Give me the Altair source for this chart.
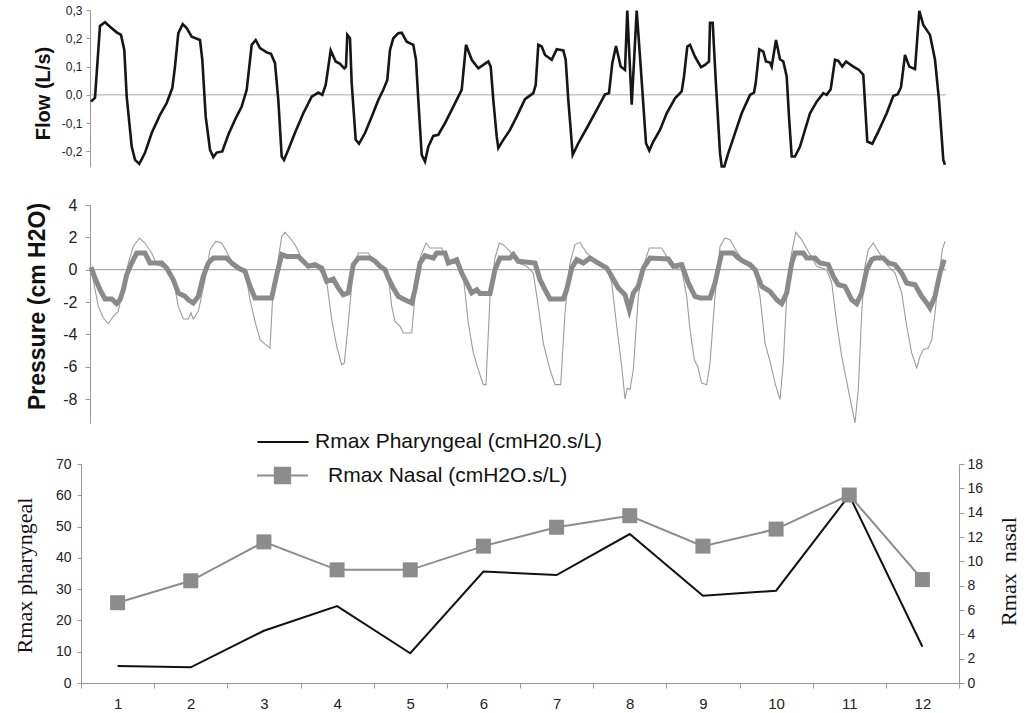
import altair as alt
import pandas as pd

# ---------------- data ----------------
# Flow trace: (time sample, flow L/s)
flow_trace = [
    (91, -0.024), (95, -0.01), (100, 0.244), (105, 0.257), (110, 0.241), (116.7, 0.221), (121, 0.212),
    (124.3, 0.159), (126.7, -0.006), (131.7, -0.183), (135, -0.23), (139.3, -0.244), (145, -0.205),
    (151.7, -0.135), (160, -0.071), (166.7, -0.029), (172.3, 0.024), (175, 0.1), (178.3, 0.218),
    (182.7, 0.25), (186.7, 0.236), (191.7, 0.206), (200, 0.194), (202.3, 0.124), (205.7, -0.077),
    (210, -0.194), (213.3, -0.22), (216.7, -0.204), (222.3, -0.2), (228.3, -0.141), (235, -0.088),
    (241.7, -0.041), (246.7, 0.018), (251.7, 0.177), (255.7, 0.194), (260, 0.165), (266.7, 0.15),
    (271, 0.145), (275, 0.112), (278.3, -0.018), (281.7, -0.218), (284, -0.23), (288.3, -0.194),
    (295, -0.134), (303.3, -0.065), (311.7, -0.006), (318.3, 0.008), (322.3, 0.0), (325.7, 0.035),
    (330.7, 0.157), (335.7, 0.118), (340, 0.11), (344.3, 0.094), (346, 0.1), (347.3, 0.212), (350, 0.2),
    (351.7, 0.041), (355.7, -0.159), (359, -0.173), (365, -0.135), (371.7, -0.077), (378.3, -0.018),
    (383.3, 0.018), (387.3, 0.053), (390, 0.159), (393.3, 0.2), (398.3, 0.218), (401.7, 0.22),
    (406.7, 0.188), (413.3, 0.177), (416, 0.124), (418.3, -0.018), (421.7, -0.212), (425, -0.236),
    (428.3, -0.183), (433.3, -0.145), (438.3, -0.141), (445, -0.1), (451.7, -0.053), (458.3, -0.006),
    (461.7, 0.018), (466, 0.177), (471.7, 0.124), (478.3, 0.094), (483.3, 0.106), (488.3, 0.118),
    (490.7, 0.1), (493.3, -0.018), (496.7, -0.147), (498.3, -0.188), (503.3, -0.159), (510, -0.124),
    (516.7, -0.077), (525, -0.015), (533.3, 0.006), (535.7, 0.035), (538.3, 0.177), (541.7, 0.171),
    (545, 0.141), (551.7, 0.124), (556.7, 0.161), (563.3, 0.157), (565.7, 0.124), (568.3, -0.018),
    (572.7, -0.212), (578.3, -0.171), (586.7, -0.118), (596.7, -0.053), (605, 0.002), (609, 0.006),
    (612.3, 0.112), (616, 0.173), (620.7, 0.1), (625, 0.088), (627.3, 0.298), (631.7, -0.035),
    (636.7, 0.298), (640.7, 0.1), (646, -0.171), (649.3, -0.197), (653.3, -0.165), (660, -0.124),
    (666.7, -0.065), (675, -0.012), (681.7, 0.012), (684, 0.065), (687.3, 0.171), (690, 0.177),
    (695, 0.135), (701, 0.098), (705, 0.106), (709, 0.118), (710, 0.255), (712.7, 0.255), (715.7, 0.053),
    (720, -0.206), (721.7, -0.253), (724.3, -0.253), (728.3, -0.206), (735, -0.135), (741.7, -0.065),
    (750, 0.0), (754, 0.008), (755.7, 0.041), (759.3, 0.161), (763.3, 0.153), (766, 0.118), (770, 0.114),
    (771.7, 0.1), (776, 0.194), (780, 0.126), (783.3, 0.118), (786.7, 0.065), (789, -0.077),
    (791.7, -0.218), (795, -0.218), (800, -0.183), (805, -0.124), (810, -0.065), (816.7, -0.024),
    (823.3, 0.006), (826.7, 0.0), (830.7, 0.02), (835, 0.124), (838.3, 0.12), (842.3, 0.1), (846, 0.118),
    (853.3, 0.1), (859, 0.088), (863.3, 0.071), (867.3, -0.165), (872.3, -0.173), (878.3, -0.13),
    (886.7, -0.065), (893.3, -0.004), (897.7, 0.002), (901, 0.027), (905, 0.141), (909.3, 0.1),
    (915, 0.091), (919.3, 0.297), (923.3, 0.247), (930, 0.212), (935, 0.124), (939, -0.018),
    (943.3, -0.23), (945, -0.247),
]

# Pressure, thin trace: (time sample, cm H2O)
pressure_thin = [
    (91, 0.1), (98.3, -2.27), (103.3, -2.99), (108.3, -3.34), (113.3, -2.89), (118.3, -2.58),
    (123.3, -1.03), (128.3, 0.41), (133.3, 1.44), (139.3, 1.96), (145, 1.65), (151.7, 1.03),
    (156.7, 0.31), (165, 0.1), (173.3, -0.62), (178.3, -2.27), (183.3, -3.05), (188.3, -3.05),
    (191, -2.68), (193.3, -3.05), (198.3, -2.58), (205, -0.62), (210, 1.24), (215.7, 1.75),
    (221.7, 1.65), (228.3, 0.93), (233.3, 0.31), (238.3, 0.1), (245, 0.04), (250, -1.86), (255, -3.2),
    (260, -4.33), (265, -4.6), (270, -4.85), (272.7, -1.65), (277.7, 0.41), (281.7, 2.06), (285, 2.31),
    (290, 1.96), (295, 1.55), (301.7, 0.72), (308.3, 0.21), (318.3, 0.1), (326.7, -0.72),
    (331.7, -3.09), (336.7, -4.74), (341.7, -5.88), (344.3, -5.77), (348.3, -3.3), (353.3, 0.1),
    (358.3, 1.03), (368.3, 1.03), (371.7, 0.72), (376.7, 0.41), (383.3, 0.1), (388.3, -0.41),
    (391.7, -2.27), (395, -3.2), (400, -3.5), (403.3, -3.92), (411.7, -3.92), (415, -1.65),
    (420, 0.72), (426, 1.65), (430, 1.34), (441.7, 1.34), (448.3, 0.52), (458.3, 0.31),
    (463.3, -0.41), (468.3, -3.3), (473.3, -5.15), (478.3, -6.19), (483.3, -7.11), (486, -7.11),
    (490, -1.65), (495, 0.72), (499.3, 1.65), (503.3, 1.55), (510, 1.13), (518.3, 0.41),
    (526.7, 0.21), (533.3, -0.21), (538.3, -2.27), (543.3, -4.54), (550, -6.19), (555, -7.11),
    (560.7, -7.11), (565, -2.68), (570, 0.41), (575, 1.55), (580, 1.69), (586.7, 1.03), (600, 0.31),
    (606.7, 0.1), (611.7, -0.82), (616.7, -3.5), (621.7, -5.98), (625, -8.0), (627.3, -7.32),
    (630, -7.42), (633.3, -6.19), (638.3, -1.65), (643.3, 0.21), (649.3, 1.34), (661.7, 1.34),
    (666.7, 0.82), (675, 0.1), (681.7, 0.0), (686.7, -1.65), (690, -3.71), (694.3, -5.57),
    (697.7, -5.98), (701.7, -7.01), (706.7, -7.11), (710, -5.77), (715, -1.65), (720, 1.44),
    (725, 1.96), (730, 1.86), (736.7, 1.13), (745, 0.41), (755, -0.1), (760, -1.65), (765, -4.54),
    (770, -5.67), (775, -7.01), (780, -8.04), (783.3, -5.77), (786.7, -1.65), (791, 0.82),
    (795.7, 2.31), (801.7, 1.86), (808.3, 1.13), (816.7, 0.21), (826.7, 0.0), (831.7, -0.82),
    (836.7, -3.3), (841.7, -5.36), (848.3, -7.42), (855, -9.48), (858.3, -7.42), (861.7, -2.68),
    (865, 0.21), (868.3, 1.24), (873.3, 1.65), (878.3, 1.13), (888.3, 0.21), (895, -0.21),
    (901.7, -1.44), (906.7, -3.5), (911.7, -5.15), (916.7, -6.08), (920, -5.36), (923.3, -4.95),
    (928.3, -4.85), (931.7, -4.33), (935, -2.68), (938.3, -0.62), (942.3, 1.24), (945, 1.75),
]

# Pressure, thick trace: (time sample, cm H2O)
pressure_thick = [
    (91, 0.16), (95, -0.52), (100, -1.24), (105, -1.81), (111.7, -1.81), (116.7, -2.1), (120, -1.86),
    (123.3, -1.24), (126.7, -0.31), (131.7, 0.41), (136.7, 1.03), (145, 1.03), (150, 0.41),
    (161.7, 0.41), (166.7, 0.1), (173.3, -0.62), (178.3, -1.44), (185, -1.65), (188.3, -1.86),
    (193.3, -2.06), (198.3, -1.65), (203.3, -0.41), (208.3, 0.41), (213.3, 0.72), (226.7, 0.72),
    (231.7, 0.41), (238.3, 0.1), (245, -0.1), (250, -1.03), (255, -1.75), (271.7, -1.75),
    (276.7, -0.31), (281.7, 0.93), (286.7, 0.82), (298.3, 0.82), (303.3, 0.52), (308.3, 0.21),
    (315, 0.31), (321.7, 0.1), (326.7, -0.72), (333.3, -0.58), (338.3, -1.13), (343.3, -1.55),
    (348.3, -1.44), (353.3, 0.31), (358.3, 0.72), (370, 0.72), (375, 0.52), (380, 0.21), (385, 0.0),
    (388.3, -0.52), (393.3, -1.13), (398.3, -1.65), (403.3, -1.81), (411.7, -2.06), (415, -1.24),
    (420, 0.41), (425, 0.87), (433.3, 0.72), (436.7, 1.03), (445, 1.03), (448.3, 0.41), (456.7, 0.62),
    (461.7, -0.21), (466.7, -0.82), (471.7, -1.44), (476.7, -1.24), (480, -1.48), (490, -1.48),
    (495, 0.0), (500, 0.72), (510, 0.72), (513.3, 0.93), (518.3, 0.52), (535, 0.41), (540, -0.62),
    (545, -1.24), (550, -1.81), (563.3, -1.81), (566.7, -1.24), (571.7, 0.1), (576.7, 0.62),
    (583.3, 0.41), (590, 0.72), (598.3, 0.41), (606.7, 0.1), (611.7, -0.41), (618.3, -1.13),
    (625, -1.55), (629.3, -2.47), (633.3, -1.44), (638.3, -1.03), (643.3, 0.1), (650, 0.72),
    (668.3, 0.66), (673.3, 0.21), (681.7, 0.31), (688.3, -0.82), (695, -1.65), (700, -1.75),
    (710, -1.75), (715, -0.82), (721.7, 1.03), (733.3, 1.03), (738.3, 0.72), (743.3, 0.52),
    (750, 0.31), (755, 0.0), (761.7, -1.03), (770, -1.34), (776.7, -1.86), (781.7, -2.1),
    (786.7, -1.44), (791.7, 0.41), (795, 1.03), (803.3, 1.03), (806.7, 0.72), (815, 0.72),
    (820, 0.41), (828.3, 0.31), (833.3, -0.41), (838.3, -0.93), (845, -1.03), (851.7, -1.86),
    (856.7, -2.1), (861.7, -1.44), (866.7, 0.0), (871.7, 0.62), (875, 0.72), (883.3, 0.72),
    (888.3, 0.41), (895, 0.31), (901.7, -0.21), (906.7, -0.82), (915, -0.93), (921.7, -1.65),
    (926.7, -2.06), (930, -2.37), (935, -1.65), (940, -0.21), (944.3, 0.62),
]

time_span = [90, 946]

records = [1, 2, 3, 4, 5, 6, 7, 8, 9, 10, 11, 12]
r_pharyngeal = [5.4, 5.0, 16.7, 24.6, 9.5, 35.6, 34.5, 47.6, 27.9, 29.5, 60.0, 11.6]
r_nasal = [6.6, 8.4, 11.6, 9.3, 9.3, 11.25, 12.8, 13.75, 11.25, 12.65, 15.45, 8.5]
label_ph = "Rmax Pharyngeal (cmH20.s/L)"
label_na = "Rmax Nasal (cmH2O.s/L)"

flow_ticks = [-0.2, -0.1, 0.0, 0.1, 0.2, 0.3]
pressure_ticks = [-8, -6, -4, -2, 0, 2, 4]
ph_ticks = [0, 10, 20, 30, 40, 50, 60, 70]
na_ticks = [0, 2, 4, 6, 8, 10, 12, 14, 16, 18]

# ---------------- frames ----------------
flow_df = pd.DataFrame(flow_trace, columns=["t", "v"])
thin_df = pd.DataFrame(pressure_thin, columns=["t", "v"])
thick_df = pd.DataFrame(pressure_thick, columns=["t", "v"])
zero_df = pd.DataFrame({"t0": [time_span[0]], "t1": [time_span[1]], "v": [0.0]})
rec_df = pd.DataFrame({"rec": records, "ph": r_pharyngeal, "na": r_nasal,
                       "ph_name": label_ph, "na_name": label_na})

SANS = "Liberation Sans"
SERIF = "Liberation Serif"
AX_GREY = "#9a9a9a"

def tscale():
    return alt.Scale(domain=time_span, range=[9, 865], nice=False, zero=False)

def flow_scale():
    return alt.Scale(domain=[-0.255, 0.3], range=[163, 6], nice=False, zero=False)

def pres_scale():
    return alt.Scale(domain=[-9.5, 4], range=[419.3, 201], nice=False, zero=False)

def ph_scale():
    return alt.Scale(domain=[0, 70], range=[679, 460], nice=False)

def na_scale():
    return alt.Scale(domain=[0, 18], range=[679, 460], nice=False)

common_axis = dict(grid=False, domainColor=AX_GREY, tickColor=AX_GREY, labelColor="#222222",
                   labelFont=SANS, titleColor="#111111")

flow_axis = alt.Axis(
    orient="left", offset=-9, values=flow_ticks,
    labelExpr="(datum.value < 0 ? '-' : '') + replace(format(abs(datum.value), '.1f'), '.', ',')",
    labelFontSize=12, tickSize=4, labelPadding=4,
    title="Flow (L/s)", titleFont=SANS, titleFontWeight="bold", titleFontSize=20,
    titleAngle=270, titleAlign="center", titleBaseline="bottom", titleX=-37, titleY=89,
    **common_axis)

pres_axis = alt.Axis(
    orient="left", offset=-9, values=pressure_ticks,
    labelExpr="(datum.value < 0 ? '-' : '') + abs(datum.value)",
    labelFontSize=16, tickSize=5, labelPadding=8,
    title="Pressure (cm H2O)", titleFont=SANS, titleFontWeight="bold", titleFontSize=23,
    titleAngle=270, titleAlign="center", titleBaseline="bottom", titleX=-41, titleY=302,
    **common_axis)

ph_axis = alt.Axis(
    orient="left", values=ph_ticks, labelFontSize=14, tickSize=4, labelPadding=6,
    title="Rmax pharyngeal", titleFont=SERIF, titleFontWeight="normal", titleFontSize=22,
    titleAngle=270, titleAlign="center", titleBaseline="bottom", titleX=-45, titleY=571,
    **common_axis)

na_axis = alt.Axis(
    orient="right", values=na_ticks, labelFontSize=14, tickSize=5, labelPadding=3,
    title="Rmax\u00a0\u00a0nasal", titleFont=SERIF, titleFontWeight="normal", titleFontSize=22,
    titleAngle=270, titleAlign="center", titleBaseline="bottom", titleX=61, titleY=567,
    **common_axis)

rec_axis = alt.Axis(orient="bottom", tickBand="extent", labelAngle=0, labelFontSize=15,
                    tickSize=5, labelPadding=8, title=None, **common_axis)

band = alt.Scale(type="band", paddingInner=0, paddingOuter=0)

# ---------------- layers ----------------
flow_zero = alt.Chart(zero_df).mark_rule(color="#aaaaaa", strokeWidth=1).encode(
    x=alt.X("t0:Q", scale=tscale(), axis=None), x2="t1:Q",
    y=alt.Y("v:Q", scale=flow_scale(), axis=None))

flow_line = alt.Chart(flow_df).mark_line(color="#161616", strokeWidth=2.6).encode(
    x=alt.X("t:Q", scale=tscale(), axis=None),
    y=alt.Y("v:Q", scale=flow_scale(), axis=flow_axis))

pres_zero = alt.Chart(zero_df).mark_rule(color="#aaaaaa", strokeWidth=1.2).encode(
    x=alt.X("t0:Q", scale=tscale(), axis=None), x2="t1:Q",
    y=alt.Y("v:Q", scale=pres_scale(), axis=None))

pres_thin = alt.Chart(thin_df).mark_line(color="#9c9c9c", strokeWidth=1.1).encode(
    x=alt.X("t:Q", scale=tscale(), axis=None),
    y=alt.Y("v:Q", scale=pres_scale(), axis=pres_axis))

pres_thick = alt.Chart(thick_df).mark_line(color="#8a8a8a", strokeWidth=5).encode(
    x=alt.X("t:Q", scale=tscale(), axis=None),
    y=alt.Y("v:Q", scale=pres_scale(), axis=None))

ph_line = alt.Chart(rec_df).mark_line(strokeWidth=2).encode(
    x=alt.X("rec:O", scale=band, axis=rec_axis),
    y=alt.Y("ph:Q", scale=ph_scale(), axis=ph_axis),
    color=alt.Color("ph_name:N", scale=alt.Scale(domain=[label_ph], range=["#111111"]),
                    legend=alt.Legend(orient="none", legendX=175, legendY=411, title=None,
                                      symbolType="stroke", symbolSize=2601, symbolStrokeWidth=2.2,
                                      labelFont=SANS, labelFontSize=21, labelColor="#111111",
                                      labelLimit=800, labelOffset=5, padding=0)))

na_line = alt.Chart(rec_df).mark_line(color="#8c8c8c", strokeWidth=2).encode(
    x=alt.X("rec:O", scale=band, axis=None),
    y=alt.Y("na:Q", scale=na_scale(), axis=na_axis))

na_pts = alt.Chart(rec_df).mark_point(shape="square", filled=True, size=225, opacity=1).encode(
    x=alt.X("rec:O", scale=band, axis=None),
    y=alt.Y("na:Q", scale=na_scale(), axis=None),
    color=alt.Color("na_name:N", scale=alt.Scale(domain=[label_na], range=["#8c8c8c"]),
                    legend=alt.Legend(orient="none", legendX=175, legendY=445, title=None,
                                      symbolType="M-1,0H-0.3M0.3,0H1M-0.3,-0.3H0.3V0.3H-0.3Z",
                                      symbolSize=2601, symbolStrokeColor="#8c8c8c",
                                      symbolFillColor="#8c8c8c", symbolStrokeWidth=2,
                                      labelFont=SANS, labelFontSize=21, labelColor="#111111",
                                      labelLimit=800, labelOffset=19, padding=0)))

chart = alt.layer(
    flow_zero, flow_line, pres_zero, pres_thin, pres_thick, ph_line, na_line, na_pts
).resolve_scale(
    x="independent", y="independent", color="independent"
).resolve_axis(
    x="independent", y="independent"
).properties(
    width=878, height=679,
    autosize=alt.AutoSizeParams(type="none"),
    padding={"left": 81, "top": 4, "right": 77, "bottom": 30},
    background="white",
).configure_view(stroke=None)

chart.save("out.html", embed_options={"renderer": "svg", "actions": False})
